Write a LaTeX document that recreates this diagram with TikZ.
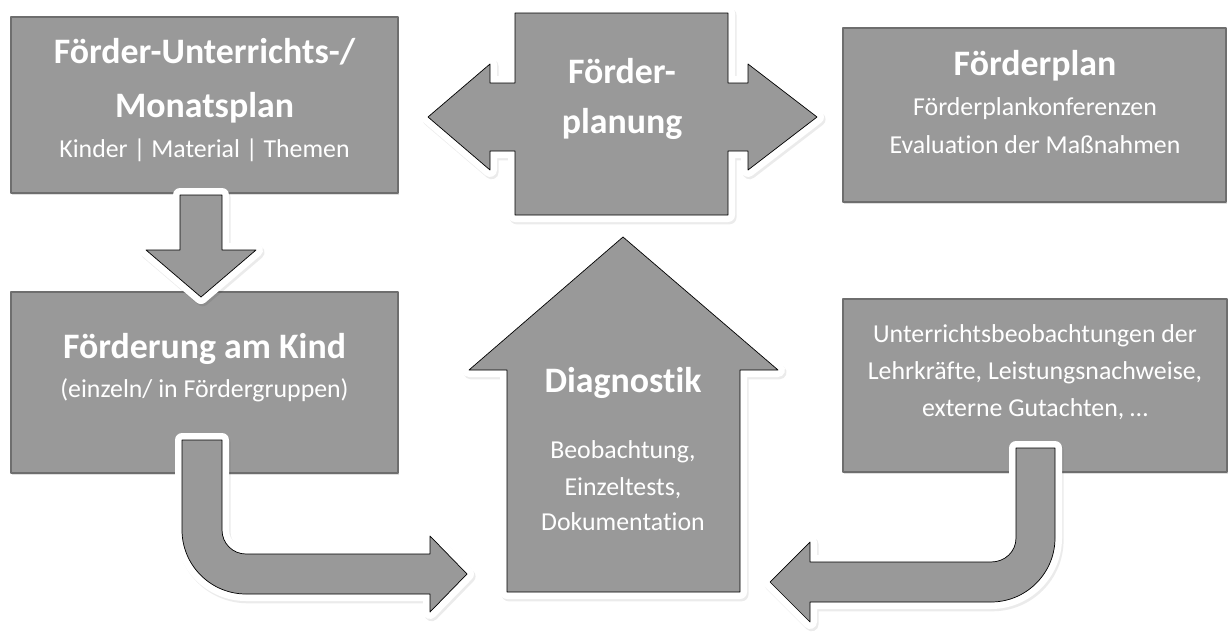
\documentclass[tikz,border=0pt]{standalone}
\usepackage{fontspec}
\setmainfont{Carlito}[Ligatures=NoCommon]
\usepackage{tikz}
\usetikzlibrary{shadows}
\definecolor{boxgray}{rgb}{0.6,0.6,0.6}
\definecolor{boxline}{rgb}{0.43,0.43,0.43}

\begin{document}
\begin{tikzpicture}[line join=round,x=0.02cm,y=-0.02cm,
  box/.style={draw=boxline,fill=boxgray,line width=1.1pt,inner sep=0pt,
    drop shadow={opacity=0.25,shadow xshift=0.8pt,shadow yshift=-1pt}},
  pfeil/.style={fill=boxgray,
    preaction={draw=black,draw opacity=0.08,line width=0.28cm,transform canvas={shift={(0.9pt,-1.3pt)}}},
    preaction={draw=white,line width=0.28cm}},
  titel/.style={text=white,inner sep=0pt,anchor=base,font=\fontsize{20.4pt}{24pt}\selectfont\bfseries},
  unter/.style={text=white,inner sep=0pt,anchor=base,font=\fontsize{14.7pt}{17pt}\selectfont}]
\useasboundingbox (0,0) rectangle (1230,632);

% Kaesten
\node[box,minimum width=7.74cm,minimum height=3.52cm] (monat) at (204.5,105) {};
\node[box,minimum width=7.66cm,minimum height=3.48cm] (plan) at (1034.5,115) {};
\node[box,minimum width=7.74cm,minimum height=3.62cm] (kind) at (204.5,382.5) {};
\node[box,minimum width=7.68cm,minimum height=3.46cm] (beob) at (1035,385.5) {};

% Pfeile
\draw[pfeil] (515,13) -- (728,13) -- (728,83) -- (748,83) -- (748,64) -- (817,117) -- (748,170) -- (748,151) -- (728,151) -- (728,215) -- (515,215) -- (515,151) -- (490,151) -- (490,170) -- (428,117) -- (490,64) -- (490,83) -- (515,83) -- cycle;
\draw[pfeil] (623,237) -- (778,370) -- (740,370) -- (740,592) -- (507,592) -- (507,370) -- (469,370) -- cycle;
\draw[pfeil] (180,195) -- (222,195) -- (222,250) -- (256,250) -- (201,297) -- (146,250) -- (180,250) -- cycle;
\draw[pfeil] (182,440) -- (222,440) -- (222,530) .. controls (222,543.3) and (232.7,554) .. (246,554) -- (430,554) -- (430,536) -- (467,574) -- (430,612) -- (430,594) -- (246,594) .. controls (210.7,594) and (182,565.3) .. (182,530) -- cycle;
\draw[pfeil] (1016,448) -- (1055,448) -- (1055,538) .. controls (1055,573.3) and (1026.3,602) .. (991,602) -- (810,602) -- (810,622) -- (770,582) -- (810,542) -- (810,562) -- (991,562) .. controls (1004.8,562) and (1016,551.8) .. (1016,538) -- cycle;

% Texte
\node[titel] (monat1) at (204.5,63) {Förder-Unterrichts-/};
\node[titel] (monat2) at (204.5,117) {Monatsplan};
\node[unter] (monat3) at (204.5,157) {Kinder | Material | Themen};

\node[titel] (fp1) at (622,83) {Förder-};
\node[titel] (fp2) at (622,133) {planung};

\node[titel] (plan1) at (1035,75) {Förderplan};
\node[unter] (plan2) at (1035,115) {Förderplankonferenzen};
\node[unter] (plan3) at (1035,153) {Evaluation der Maßnahmen};

\node[titel] (kind1) at (204.5,358) {Förderung am Kind};
\node[unter] (kind2) at (204.5,397) {(einzeln/ in Fördergruppen)};

\node[titel] (diag1) at (623,392) {Diagnostik};
\node[unter] (diag2) at (623,458) {Beobachtung,};
\node[unter] (diag3) at (623,495) {Einzeltests,};
\node[unter] (diag4) at (623,530) {Dokumentation};

\node[unter] (beob1) at (1035,342) {Unterrichtsbeobachtungen der};
\node[unter] (beob2) at (1035,379) {Lehrkräfte, Leistungsnachweise,};
\node[unter] (beob3) at (1035,416) {externe Gutachten, \dots};
\end{tikzpicture}
\end{document}
